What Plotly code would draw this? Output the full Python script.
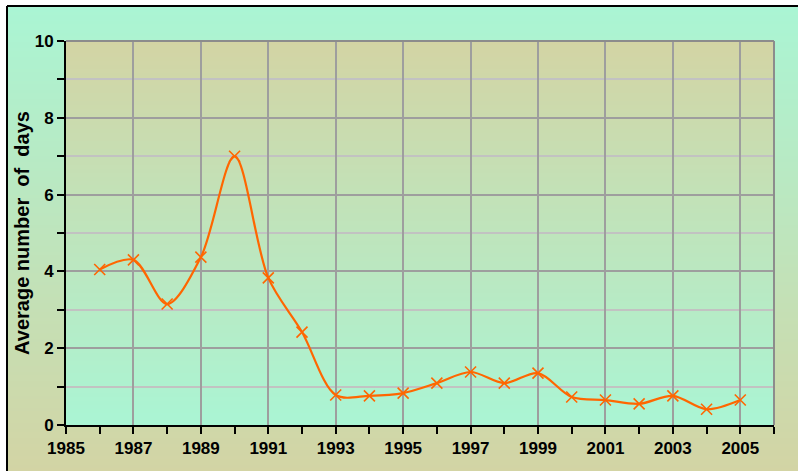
import plotly.graph_objects as go

# Average number of days per year
years = [1986, 1987, 1988, 1989, 1990, 1991, 1992, 1993, 1994, 1995,
         1996, 1997, 1998, 1999, 2000, 2001, 2002, 2003, 2004, 2005]
avg_days = [4.05, 4.30, 3.15, 4.37, 7.00, 3.83, 2.42, 0.78, 0.76, 0.83,
            1.09, 1.38, 1.09, 1.35, 0.73, 0.65, 0.55, 0.76, 0.41, 0.65]

x_tick_vals = list(range(1985, 2006, 2))
x_tick_text = [str(v) for v in x_tick_vals]
y_tick_vals = [0, 2, 4, 6, 8, 10]

W, H = 798, 471
ML, MR, MT, MB = 66, 24, 41, 46
PW, PH = W - ML - MR, H - MT - MB

ORANGE = "#FF6600"
AQUA = (170, 245, 212)
TAN = (211, 212, 164)
FONT = "Liberation Sans, Arial, sans-serif"


def px_x(px):
    return (px - ML) / PW


def px_y(py):
    return (H - MB - py) / PH


def mix(c0, c1, t):
    return "rgb(%d,%d,%d)" % tuple(round(a + (b - a) * t) for a, b in zip(c0, c1))


shapes = []

# outer chart area: aqua at the top fading to tan at the bottom
top_px, bot_px, step = 6, H, 3
n = (bot_px - top_px) // step + 1
for i in range(n):
    y0 = top_px + i * step
    y1 = min(y0 + step + 1, bot_px)
    t = i / max(n - 1, 1)
    shapes.append(dict(type="rect", xref="paper", yref="paper", layer="below",
                       x0=px_x(7), x1=px_x(W + 5), y0=px_y(y1), y1=px_y(y0),
                       line=dict(width=0), fillcolor=mix(AQUA, TAN, t)))

# frame of the chart area
shapes.append(dict(type="line", xref="paper", yref="paper", layer="below",
                   x0=px_x(7), x1=px_x(W + 5), y0=px_y(6), y1=px_y(6),
                   line=dict(color="black", width=2)))
shapes.append(dict(type="line", xref="paper", yref="paper", layer="below",
                   x0=px_x(7), x1=px_x(7), y0=px_y(6), y1=px_y(H + 5),
                   line=dict(color="black", width=2)))

# plot area: tan at the top fading to aqua at the bottom
m = 96
for i in range(m):
    y0 = i / m
    y1 = min((i + 1.3) / m, 1)
    t = (i + 0.5) / m
    shapes.append(dict(type="rect", xref="x domain", yref="y domain", layer="below",
                       x0=0, x1=1, y0=y0, y1=y1,
                       line=dict(width=0), fillcolor=mix(AQUA, TAN, t)))

# grey border along the top and right of the plot area
shapes.append(dict(type="line", xref="x domain", yref="y domain", layer="above",
                   x0=0, x1=1, y0=1, y1=1, line=dict(color="#8c8c8c", width=2)))
shapes.append(dict(type="line", xref="x domain", yref="y domain", layer="above",
                   x0=1, x1=1, y0=0, y1=1, line=dict(color="#8c8c8c", width=2)))

fig = go.Figure()
fig.add_trace(go.Scatter(
    x=years, y=avg_days, mode="lines+markers",
    line=dict(color=ORANGE, width=2.2, shape="spline", smoothing=0.9),
    marker=dict(symbol="x-thin", size=11, color=ORANGE,
                line=dict(color=ORANGE, width=1.6)),
    showlegend=False, cliponaxis=False,
))

tick_font = dict(family=FONT, size=17, color="black", weight="bold")

fig.update_layout(
    width=W, height=H,
    margin=dict(l=ML, r=MR, t=MT, b=MB, pad=0),
    paper_bgcolor="white",
    plot_bgcolor="rgba(0,0,0,0)",
    shapes=shapes,
    font=dict(family=FONT, size=17, color="black"),
    xaxis=dict(
        range=[1985, 2006], tickmode="array", tickvals=x_tick_vals, ticktext=x_tick_text,
        ticks="outside", ticklen=7, tickwidth=1.5, tickcolor="black",
        showline=True, linecolor="black", linewidth=2,
        showgrid=True, gridcolor="#9e9e9e", gridwidth=1.5,
        zeroline=False, tickfont=tick_font,
        minor=dict(dtick=1, ticks="outside", ticklen=7, tickwidth=1.5,
                   tickcolor="black", showgrid=False),
    ),
    yaxis=dict(
        range=[0, 10], tickmode="array", tickvals=y_tick_vals,
        ticks="outside", ticklen=7, tickwidth=1.5, tickcolor="black",
        showline=True, linecolor="black", linewidth=2,
        showgrid=True, gridcolor="#9e9e9e", gridwidth=1.5,
        zeroline=False, tickfont=tick_font,
        title=dict(text="<b>Average number\u00a0 of\u00a0 days</b>", standoff=0,
                   font=dict(family=FONT, size=20, color="black")),
        minor=dict(dtick=1, ticks="outside", ticklen=7, tickwidth=1.5,
                   tickcolor="black", showgrid=True, gridcolor="#c2c2c2",
                   gridwidth=1.5),
    ),
)

fig.write_html("out.html")
